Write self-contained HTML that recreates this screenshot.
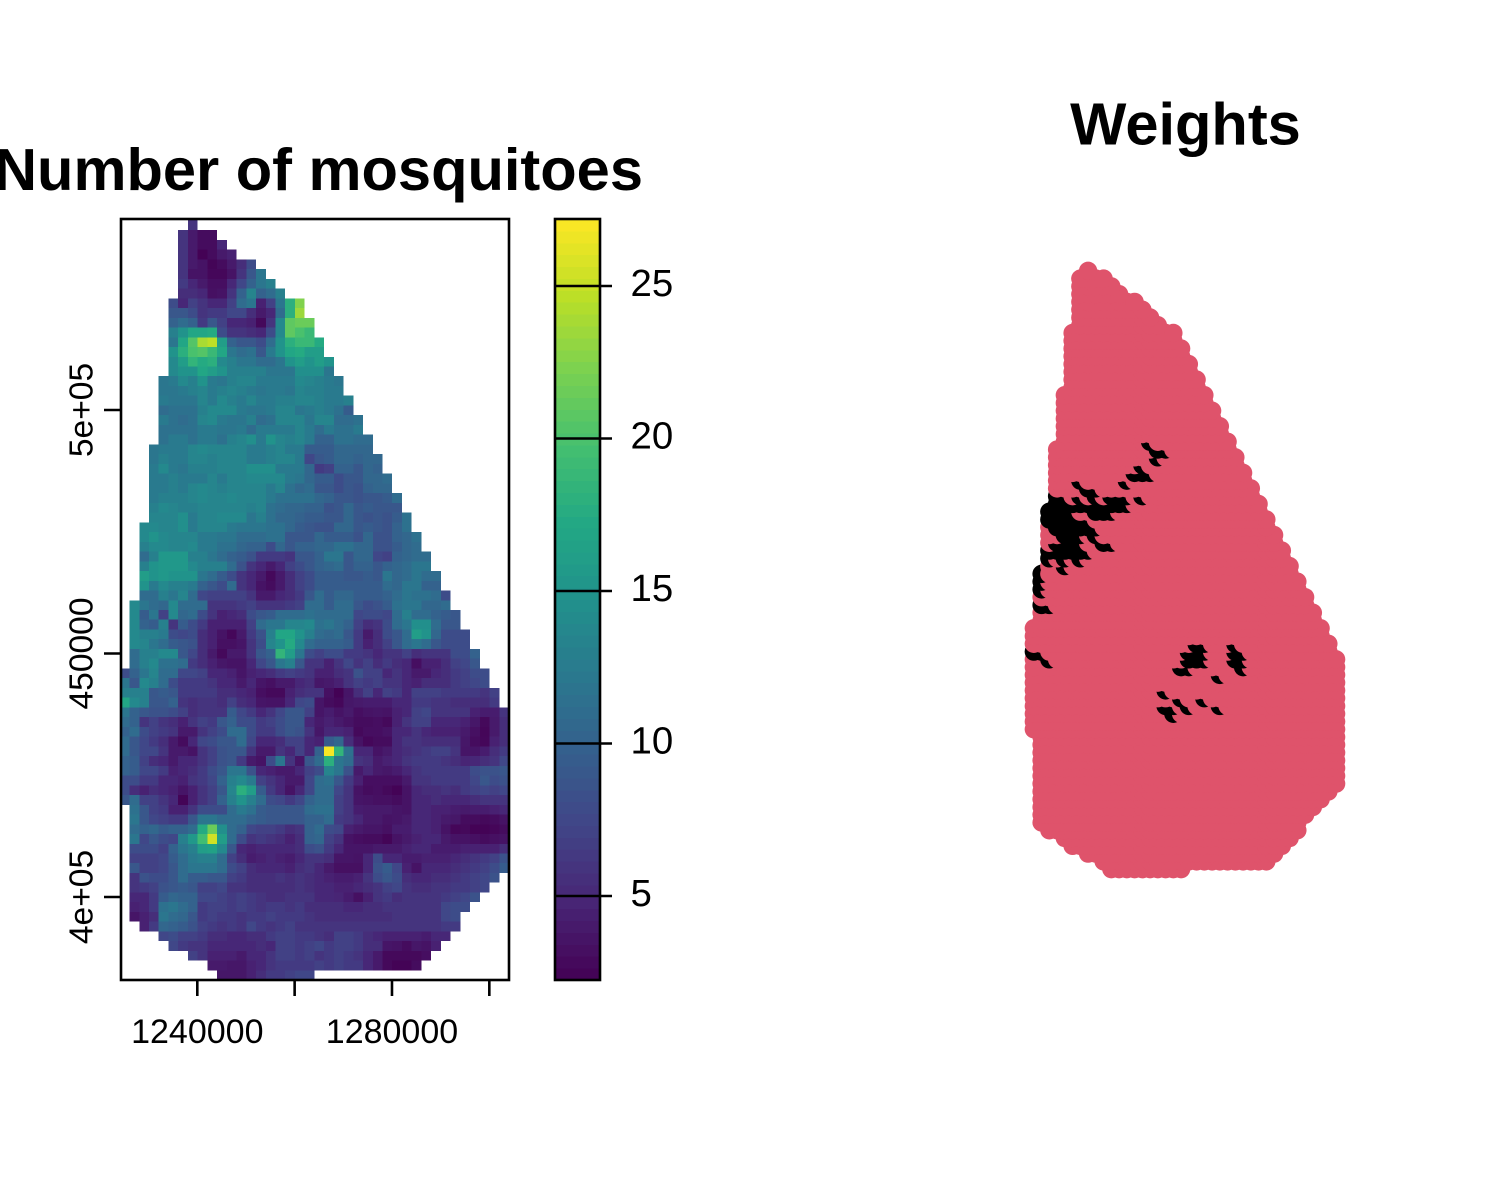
<!DOCTYPE html>
<html lang="en">
<head>
<meta charset="utf-8">
<title>Number of mosquitoes and Weights</title>
<style>
html,body{margin:0;padding:0;background:#fff;}
svg{display:block;font-family:"Liberation Sans",Arial,sans-serif;}
text{fill:#000;}
</style>
</head>
<body>
<svg id="figure" xmlns="http://www.w3.org/2000/svg" width="1500" height="1200" viewBox="0 0 1500 1200">
  <rect x="0" y="0" width="1500" height="1200" fill="#ffffff"/>
  <defs><clipPath id="mapClip"><rect x="121" y="219" width="388" height="761"/></clipPath></defs>
  <text x="318.5" y="190" font-size="59.6" font-weight="bold" text-anchor="middle">Number of mosquitoes</text>
  <text x="1185.5" y="144.5" font-size="59.6" font-weight="bold" text-anchor="middle">Weights</text>
  <g id="heatmap" clip-path="url(#mapClip)" shape-rendering="crispEdges"></g>
  <rect x="121" y="219" width="388" height="761" fill="none" stroke="#000" stroke-width="2.6"/>
  <g id="xAxis"></g>
  <g id="yAxis"></g>
  <g id="colorbar" shape-rendering="crispEdges"></g>
  <rect x="555" y="219" width="45" height="761" fill="none" stroke="#000" stroke-width="2.6"/>
  <g id="colorbarAxis"></g>
  <g id="points"></g>
</svg>
<script>
// Grid: first occupied column of each row, and estimated mosquito counts from that column on.
const rowStarts = [7,6,6,6,6,6,6,6,5,5,5,5,5,5,5,5,4,4,4,4,4,4,4,3,3,3,3,3,3,3,3,2,2,2,2,2,2,2,2,1,1,1,1,1,1,1,0,0,0,0,0,0,0,0,0,0,0,0,0,0,1,1,1,1,1,1,1,1,1,1,1,1,2,4,5,7,9,10];
const rowValues = [
[6],
[6,4,3,3],
[6,4,3,3,5],
[6,4,2.3,3,4,4.5],
[6,4,3.5,2.5,3,4,5.5,8],
[6,3.5,3.5,2.7,2.7,3.5,6,9,12],
[6.5,5,4,3.2,3.2,5,7.5,10,12,13],
[5.5,5.5,5,3.3,3.5,6,10,13.5,10,11,13],
[8,5,7,6,5,5,7,11,12,4.5,7,12,18,22.5],
[9,9,8,6,6.5,6.5,7.5,7.5,5.5,4,5,11,18,23.5],
[10,11,10,6.5,9,7,5,5,4.5,2.8,6,14,21,21.5,21.5],
[13,15,17,17,17.5,8,6,6,5.5,5,8,14,21,20,19],
[12,17,20.5,24,24.7,16,10,9,9,8,11,15,18,19,19,17.5],
[15,18,20,20.5,19,17,12,11,11.5,9,12.5,15,17,17.5,16,16],
[14,16,18.5,17.5,18,14,13,12,12,11,11,12,15,16,15,16,15],
[14,15,15,17,16,15,13,13,13,13,12,12,12,14.5,14.5,14.5,12],
[12,12.5,14,13,15,12.5,12,13,13.5,13.5,12.5,12.5,12.5,12.5,14,13.5,13,12.5,12],
[12,12,12.5,13,13.5,12.5,13,13.5,13,12.5,12,12.5,12.5,12,13.5,13,13,12.5,12.5],
[12.5,12,12,12,13.5,12.5,14,13,12.5,13.5,12.5,12.5,13,13,13.5,13.5,13,12.5,12.5,13],
[11,11.5,11.5,11.5,13,14,14,14,12.5,12,12,12.5,13.5,13.5,12,12.5,13,12.5,11.5,9.5],
[12.5,11.5,11,11.5,13.5,14,12.5,12,12,13,11,11.5,13.5,13.5,13.5,12,13.5,13.5,11,11,11.5],
[11.5,11.5,11.5,11.5,12.5,12.5,12,12,12.5,11,12.5,12.5,12.5,12.5,13.5,12.5,11,12.5,11.5,11.5,12.5],
[11.5,12.5,12.5,11.5,12.5,12.5,11.5,13,13.5,14.5,12.5,15,13.5,13,13.5,12.5,10,10,11.5,11.5,11,11],
[12,12.5,12.5,12.5,13.5,14,13.5,13.5,13.5,13.5,12.5,12.5,13,13.5,12.5,12.5,9.5,9.5,9.5,10.5,10.5,10.5,10.5],
[12,13,12.5,12.5,13.5,13.5,13,13.5,13.5,13.5,12.5,12.5,13,13.5,13.5,12.5,7.5,9,9.5,10.5,10.5,10,10.5,10.5],
[12.5,14,12.5,12,13,13,13,13.5,13.5,13.5,14.5,14.5,14.5,12.5,12.5,12.5,10.5,6.5,7,10,10,9,10.5,10],
[12.5,12.5,13,12.5,12.5,12.5,13.5,12.5,13.5,13.5,14,14,14,14,12.5,12,10.5,9.5,9.5,8,9,9,10.5,10.5,11],
[12.5,12.5,13,12.5,13.5,14,13.5,13,13.5,13.5,13.5,13.5,12.5,13.5,11.5,10.5,11,9,9,8,9,8.5,10,10.5,10.5],
[12.5,13,13,13,13.5,14,13.5,13.5,14,13.5,13.5,13.5,12.5,11.5,11.5,11.5,11.5,10.5,10,9,9,8.5,9,9,9.5,11],
[13,14,13.5,13,13,13.5,13.5,13.5,13.5,13.5,13,13.5,11.5,11,10.5,10.5,10,10,8.5,9,10.5,9,9.5,9,9,9],
[13.5,13.5,13.5,14.5,12.5,13.5,13.5,14,14,14,12,13,11.5,10.5,10.5,10,9.5,9.5,9,9,10.5,9,8.5,9,8.5,9.5,11.5],
[14,14,13.5,13.5,14.5,12.5,13.5,13.5,13.5,12.5,12,12,12,11.5,11.5,10.5,9.5,9,8.5,8.5,10.5,10.5,9,9.5,9,8.5,10,11.5],
[14,15,14,13.5,13.5,13.5,12.5,12.5,12,12,11,11,11,11.5,11.5,9,9,9,10.5,9.5,9.5,9.5,8.5,10.5,8.5,8.5,10,10.5,11.5],
[13,14,14,13.5,13.5,14,12.5,12.5,11.5,11.5,10.5,10,10,8,10.5,9,10,10,10.5,10.5,11.5,11.5,10.5,10.5,8.5,8.5,9.5,10.5,11],
[11,13,15.5,15.5,15.5,13,13,12,11,10,9.5,8.5,6.5,6.5,6.5,6,9,9,10,12,12,9,10.5,10.5,7.5,7,10,10.5,11,11],
[13,15,15.5,15.5,15.5,14,13,13,13,11,8.5,6,5,4,5,7,8,9,10,10.5,11,9,10,10,9,10,10.5,11,12,12],
[16,15,15.5,15,15,15,12,11,9.5,8,6,5,4,2.8,4,5.5,7,8,9.5,9.5,9.5,9,9,9.5,9,12,10.5,11,12,11,11],
[15,12.5,14,13,13,12.5,10,9,8,11,6,5,3.5,3,4,5.5,7,8,9.5,9.5,9.5,9.5,9.5,9.5,9.5,11,10.5,12,12,10,10],
[11,11,13,12,13.5,11,7.5,7,7,7,7,6,4,4,5,5.5,6.5,9,11,9.5,10.5,10.5,9.5,9.5,9.5,10,11,12,11.5,11.5,11,8],
[14,12,11,10.5,14,11,11,11,6,6,6,6.5,7,6,6,6,6.5,7,11,11,9.5,11,11,9,8,8.5,9.5,11.5,12,12,10.5,10.5,11],
[14,9.5,12,7,14,10.5,11,8,6,4.5,5,5.5,8,9,9.5,11,11,11,11.5,11,11,11,11,7.5,8,8,7.5,11,13,11,11,10,9.5,9],
[14,10,9.5,13,6,9.5,8,6.5,4.5,4.5,4.5,4.5,7,11,12,12,13.5,13.5,14,11.5,12,11,10,7,5.5,6,8,11,12,14.5,14.5,11,9,9],
[14,13,13,12.5,8,7.5,8,5.5,4.5,3.5,2.7,4,6.5,8.5,13,17,17,15,13,11,10.5,11,9,6.5,4,5.5,8,9,11,16,15,10.5,8,8,8],
[14,13.5,12,11,9.5,9,8.5,5.5,4.5,3.3,3.3,3.7,6,8,13.5,15,17.5,14,11,10,10,10,9.5,6.5,4.5,5.5,7,9,11,12,11,9,8,8,8],
[11,13,13,14,14,9,7.5,5.5,4,2.8,4,4,6,9,10,18.5,16,12,8,7,8,8,6.5,6.5,6,5,6,6,7,5.5,6,6,6,8,8,10],
[11,13,14,11.5,11.5,11,6.5,5.5,4.5,3.8,3.5,3.5,5,7.5,9,12,13,9,6,6,4.5,6,7.5,6,7,5.5,6.5,5.5,5,3.2,4.5,4.5,5.5,7,7.5,9],
[8,10,12,13.5,11,11,7.5,7.5,7,5,5,4.5,3.7,4.5,5,5.5,6.5,7,6.5,6,4.5,4.5,5.5,6,8.5,7,7,5,6,5,4,4,5,5.5,6.5,7,8,8],
[12,9,14,13,11,8,6.5,6.5,6.5,6,5,5,4,5,3.7,3.3,4,4,5,5.5,3.8,4,4.5,6,7,6.5,7,6,6,5,4.5,5.5,5.5,5.5,6.5,7,7.5,8],
[13,13,13,9,9.5,9,6.5,6.5,6.5,6.5,5.5,5.5,5,4.5,3.2,2.8,2.8,4.5,5.5,6,6,3.3,2.3,3.7,5.5,7,5,7,6.5,5,7,7,7,6.5,6.5,6.5,6.5,6,7],
[17,14,13,9,9,10,6,5.5,6,6,5.5,7,5.5,5,3.7,3.5,3.5,5,7.5,8,3.7,3,2.7,3.8,4,4.2,4.2,4.2,5,5,6.5,6.5,6,6,5.5,5.5,5.5,5.5,6.5],
[12,10,9,8.5,8.5,8,7,5.5,6,6,6,9.5,7.5,6.5,5,6,7.5,9,9,7,3.7,4.2,3.5,4,3.2,3.5,3.7,3.5,4.5,5,7,7.5,6,6,6,6,4.5,4.2,4.2,6],
[11,10,6,7,6,5.5,4.5,6,7,6.5,9,10,8,8,6.5,7,8,9,9,5,4,4.5,4,3.5,3,3,3.2,2.8,4.5,6,7,7,5,5,5,4.5,3.8,2.8,4,5.5],
[10,11,8,7,6.5,6,4,4,6,7,8,11,11,8,6.5,6.5,8,9,8.5,6,3.8,5,5,4.5,2.8,3.2,3.2,3.5,5,5,6,5,4.5,4.5,4.5,4,3.3,2.6,4,5.5],
[11,9,7.5,6.5,5.5,4,3,5,7.5,8,9,9,11,7.5,5,5,5.5,7,7,5,4.5,9.5,10.5,5.5,3.5,2.7,3,3,5,6,6,5.5,5.5,5.5,5.5,3.8,3,2.7,4.5,5.5],
[11,9,7.5,7.5,6,4,4,3.5,6,7,8.5,9,9,6,4,4,6,5,7,5,10,27,18.5,11.5,5,5,3.5,4,5,5.5,6,6.5,7,7,6,3.7,3.7,4.2,5.5,6.5],
[10,9.5,7,5.5,5,4,5,5,6,7,8.5,9,6.5,4,3.5,8,12,6,3.7,9,11,18,12,11,6,5.5,4,4.5,5,6,6.5,6.5,6.5,6,5.5,4.8,5,5.5,6,7.5],
[10,9.5,7.5,7.5,6.5,4.5,5,5.5,6.5,8,9,12,12,8.5,5,4.5,4,4,5,7,8,13.5,12,8.5,4,5,4,3.8,4.2,5,6,6.5,6.5,6.5,6.5,6.5,8,8.5,8.5,9],
[8,8,6.5,6.5,5,5,4.5,6,6.5,7.5,10,13,14,12.5,7,6,5,4,4,7.5,11,11.5,9,6.5,4.5,3.2,3.2,3.2,3.2,4,6,6,6.5,6.5,6.5,6.5,7.5,9,8,8.5],
[8,5.5,4.5,5.5,5,4.5,3.7,4.5,6,7,9,13.5,18,16,9.5,6.5,5,3.5,5,7.5,11,11,7.5,6,3.5,3,3.2,2.8,2.4,3.5,5,5.5,5.5,6,5.5,6.5,7,7.5,7,7.5],
[9,11,7,7,6,5,2.5,4.5,6,7,10,13,15,13,11,8,7.5,6.5,7.5,10,11,11,7,6,3.7,3.5,3.3,3.3,3,3.5,5,5,5.5,5,5,5,5.5,6,6,6],
[11.5,9,7,6.5,4.5,4.5,6,8,8,8,11,12.5,11.5,9.5,9,9,9,9,11,11.5,11.5,7,6,4.2,4,4,4,3.7,3.5,5,5,4.5,4.5,4.2,4,4.2,4.2,4.5,5],
[12,9,7.5,7,6.5,6.5,9,12,12,11,11,11,10,9.5,9,9,9,9,10,10,11,6.5,6,5,4,4,3.5,3.7,4,5,5,4.5,4,3.8,3,3,2.8,3,3.5],
[11,10,10.5,9.5,10,10,11,17.5,21.5,14.5,11,10,7.5,7,7,6.5,5.5,6,10,11,8,7.5,4.5,4,3.7,3.7,3.3,4.2,4.2,5,5,4.5,3.5,2.6,2.8,2.4,2.4,2.6,3],
[12,7.5,9,8,7.5,13,15.5,19.5,25.5,16,11,8,6,6.5,6,5.5,4.5,5.5,10,10.5,7,6,3.5,3.2,3,3,2.5,3.5,4,4.5,5,5,4,3.5,3.5,3.3,3,3.3,3.5],
[8,8,8,7,10,12,13,16,16.5,14,9,5,4.5,5,5,5,5,5.5,8,8.5,6.5,5,3.7,3.7,3.7,4,4,4,4.5,5,5,4.2,4.2,4.2,4.5,4.5,4.5,4.5,5.5],
[7,7,7,7.5,9.5,11,12.5,13,13,11,7,5.5,4.2,4.5,5,4.5,4.2,5,6,6,5.5,3.7,3.7,3.5,5,8,5,5,4.2,4.2,4.5,4.5,4.5,5,5.5,6,6.5,7,8.5],
[9,7,7,7.5,9,11,12,12,12,11,8,7,5.5,5,5,5,4.5,5.5,6,5,4,3.3,3.3,3.3,5,8.5,9.5,7.5,4.5,3.5,5,5,5,5.5,6,6.5,7,8,9.5],
[6,8.5,8,8,9,11,9.5,9.5,9,9,7,6.5,5.5,5.5,5.5,6,5.5,6,5.5,5,4.5,4.2,4.2,4.5,6,8,9,8,5.5,5,5,5.5,5.5,6,6.5,7,7.5,8.5],
[6,6.5,7,8.5,9,9.5,9,7,7,7.5,6,6,5.5,5.5,5.5,5.5,5.5,6,5.5,5,5,4.5,4.5,5,5.5,6,7,7.5,6,5.5,5.5,6,6,6.5,6.5,7,7.5],
[5,5,6.5,9.5,10.5,10,10,7.5,7.5,7,6.5,7,6.5,6,5.5,5.5,6,6,6,5,5,4.8,4.2,3.3,4.5,6,6.5,5.5,6,6,6,6,6.5,7,7.5,8.5],
[4.5,5,6.5,11.5,12,11,10,6.5,7,7,6.5,7,6.5,6,6.5,6.5,6,6.5,5.5,5.5,5.5,5.5,5,5,5.5,5.5,6,6,6,6,6,6,7.5,8,8],
[3.7,4.5,5.5,12,11,10.5,9,6.5,7,6.5,6.5,6,6.5,6.5,7,6.5,6.5,6.5,6,5.5,5.5,5.5,5.5,5.5,5.5,5.5,5.5,6,6,6,6,6,7.5,8],
[4.5,6.5,10.5,10,9.5,8.5,7,6.5,6,6.5,6,7.5,6.5,6,6.5,7,6,6,6,6,6,6,6,6,6,6,6,6,6,6,6,6.5,6.5],
[7.5,8,7,7,6.5,5.5,5.5,5,5,5.5,5.5,6.5,7,7,6.5,6.5,6,5.5,7,7,6.5,5.5,5,4.5,4.5,4.5,4.5,4.2,5,5],
[7.5,6.5,6,6,5,5,5,5,5,5.5,5,7,7,6.5,7,7.5,6.5,7,7,6.5,5.5,5.5,3.7,3.5,3,3.8,3.5,4.5],
[7,6,4.5,4.5,4.5,4,5,5,6,7,7,6.5,7,6,6.5,7,6.5,6,5,4,2.8,2.8,2.8,2.8,3.2],
[4,4,3.8,3.8,4.5,5,6,6.5,6.5,6.5,6.5,7,6.5,7,6.5,6.5,5,4,2.8,2.4,2.4,3],
[3.8,3.8,3.8,4.5,5.5,6.5,6.5,7,7.5,7.5]
];

// Right panel: rows holding weight-one (black) points, and their columns.
const highWeightRows = [22,23,24,25,26,27,28,29,30,31,32,33,34,35,36,37,38,39,40,41,43,48,49,50,51,52,54,55,56,57];
const highWeightCols = [
[15],[16,17],[16],[14],[13,14,15],[6,12],[7,8],[3,4,6,8,10,11,12,14],
[3,4,5,6,7,8,9,10,11,12],[2,3,4,5,8,9,10],[2,3,4,5,6,7],[3,4,5,6,7,8],
[4,5,6,8],[3,4,5,6,9,10],[2,3,4,5,6,7],[2,4,6],[4],[1],[1],[1],[1,2],
[21,22,26],[0,1,20,21,22,26,27],[2,20,21,22,26,27],[19,20,27],[24],[17],[19,22],[17,18,20,24],[18]
];

// Axis ticks
const xTickValues = [1240000,1260000,1280000,1300000];
const xTickLabels = ["1240000","","1280000",""];
const yTickValues = [400000,450000,500000];
const yTickLabels = ["4e+05","450000","5e+05"];
const colorTickValues = [5,10,15,20,25];
const colorTickLabels = ["5","10","15","20","25"];

const SVGNS = "http://www.w3.org/2000/svg";
const viridisStops = ["#440154","#482475","#414487","#355f8d","#2a788e","#21918c","#22a884","#44bf70","#7ad151","#bddf26","#fde725"];
const zMin = 2.25, zMax = 27.25;

function hexToRgb(h){return [1,3,5].map(function(i){return parseInt(h.substr(i,2),16);});}
function viridis(t){
  t=Math.max(0,Math.min(1,t));
  var p=t*(viridisStops.length-1), i=Math.min(Math.floor(p),viridisStops.length-2), f=p-i;
  var a=hexToRgb(viridisStops[i]), b=hexToRgb(viridisStops[i+1]);
  return "rgb("+a.map(function(v,k){return Math.round(v+(b[k]-v)*f);}).join(",")+")";
}
function colorOf(v){return viridis((v-zMin)/(zMax-zMin));}

// Axis functions
function xScale(v){return 197.3+(v-1240000)*0.004867;}
function yScale(v){return 897-(v-400000)*0.004870;}
function colScale(c){return 119.8+c*9.73;}
function rowScale(r){return 220.4+r*9.74;}
function zScale(v){return 896-(v-5)*30.5;}
function ptX(c){return 1033.85+c*7.75;}
function ptY(r){return 270.85+r*7.77;}

function make(tag,attrs,parent){
  var el=document.createElementNS(SVGNS,tag);
  for(var k in attrs){el.setAttribute(k,attrs[k]);}
  parent.appendChild(el);
  return el;
}

// Heatmap
var heatmap=document.getElementById("heatmap");
rowValues.forEach(function(vals,r){
  vals.forEach(function(v,i){
    var c=rowStarts[r]+i;
    var rect=make("rect",{x:colScale(c),y:rowScale(r),width:9.73,height:9.74,fill:colorOf(v)},heatmap);
    
    
  });
});
// First row reaches the frame
var firstCell=heatmap.firstChild;
firstCell.setAttribute("y",218);
firstCell.setAttribute("height",12.14);

// X axis
var xAxis=document.getElementById("xAxis");
xTickValues.forEach(function(v,i){
  var x=xScale(v);
  var tick=make("line",{x1:x,x2:x,y1:980,y2:996,stroke:"#000","stroke-width":2.6},xAxis);
  
  
  if(xTickLabels[i]){
    var t=make("text",{x:x,y:1043,"font-size":34,"text-anchor":"middle"},xAxis);
    t.textContent=xTickLabels[i];
    
    
  }
});

// Y axis
var yAxis=document.getElementById("yAxis");
yTickValues.forEach(function(v,i){
  var y=yScale(v);
  var tick=make("line",{x1:104,x2:121,y1:y,y2:y,stroke:"#000","stroke-width":2.6},yAxis);
  
  
  var t=make("text",{transform:"translate(92.5,"+y+") rotate(-90)","font-size":33.6,"text-anchor":"middle"},yAxis);
  t.textContent=yTickLabels[i];
  
  
});

// Colorbar: 64 bands
var colorbar=document.getElementById("colorbar");
var bandCount=64;
for(var b=0;b<bandCount;b++){
  var bh=761/bandCount;
  var band=make("rect",{x:555,y:980-(b+1)*bh,width:45,height:bh+0.5,fill:viridis((b+0.5)/bandCount)},colorbar);
  
  
}
var colorbarAxis=document.getElementById("colorbarAxis");
colorTickValues.forEach(function(v,i){
  var y=zScale(v);
  var tick=make("line",{x1:555,x2:612,y1:y,y2:y,stroke:"#000","stroke-width":2.6},colorbarAxis);
  
  
  var t=make("text",{x:630.5,y:y+10,"font-size":38.4},colorbarAxis);
  t.textContent=colorTickLabels[i];
  
  
});

// Weights points: drawn bottom row first, left to right, so later points overlap earlier ones.
var points=document.getElementById("points");
for(var r=rowValues.length-1;r>=0;r--){
  var hw=highWeightRows.indexOf(r);
  var blackCols=hw>=0?highWeightCols[hw]:[];
  for(var i=0;i<rowValues[r].length;i++){
    var c=rowStarts[r]+i;
    var isHigh=blackCols.indexOf(c)>=0;
    var pt=make("circle",{cx:ptX(c),cy:ptY(r),r:9.2,fill:isHigh?"#000000":"#DF536B"},points);
    
    
  }
}
</script>
</body>
</html>
